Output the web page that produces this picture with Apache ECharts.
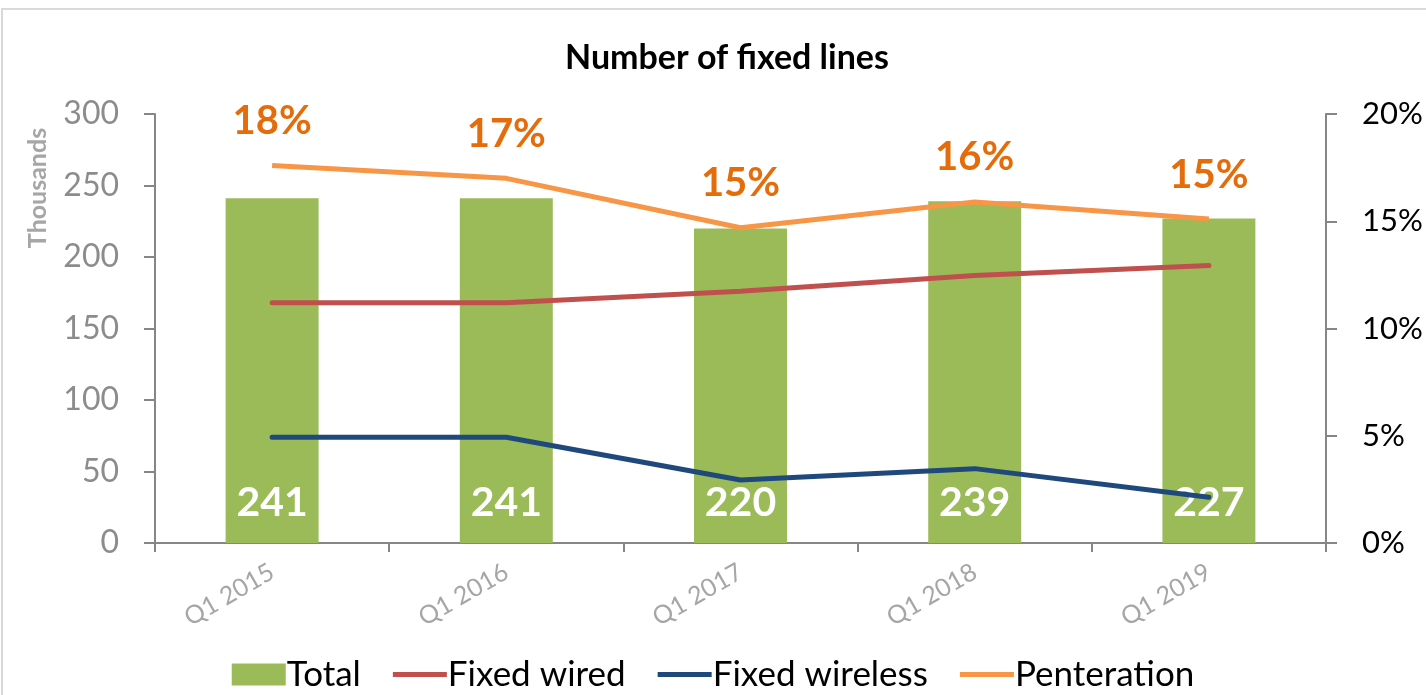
<!DOCTYPE html>
<html>
<head>
<meta charset="utf-8">
<script src="https://cdn.jsdelivr.net/npm/echarts@6/dist/echarts.min.js"></script>
<style>
  html, body { margin: 0; padding: 0; background: #fff; }
  #main { width: 1426px; height: 695px; }
</style>
</head>
<body>
<div id="main"></div>
<script>
var categories = ['Q1 2015', 'Q1 2016', 'Q1 2017', 'Q1 2018', 'Q1 2019'];
var total = [241, 241, 220, 239, 227];
var fixedWired = [168, 168, 176, 187, 194];
var fixedWireless = [74, 74, 44, 52, 32];
var penetration = [0.176, 0.170, 0.147, 0.159, 0.151];

var font = 'Lato, "Open Sans", sans-serif';
// thick horizontal stroke for the line legend keys (box kept 54x22 so it isn't stretched)
var lineKey = 'path://M0,0 M0,8.5 L54,8.5 L54,13.5 L0,13.5 Z M54,22';

var chart = echarts.init(document.getElementById('main'), null, { renderer: 'canvas' });

var option = {
  animation: false,
  textStyle: { fontFamily: font },
  title: {
    text: 'Number of fixed lines',
    left: 722,
    top: 36,
    textAlign: 'center',
    textStyle: { fontSize: 34, fontWeight: 'bold', color: '#000', fontFamily: font }
  },
  graphic: [
    {
      type: 'rect',
      shape: { x: 2, y: 9, width: 1440, height: 700 },
      style: { fill: 'none', stroke: '#d9d9d9', lineWidth: 2 },
      silent: true
    },
    {
      type: 'text',
      x: 38,
      y: 188,
      rotation: Math.PI / 2,
      style: {
        text: 'Thousands',
        fontSize: 25,
        fontWeight: 'bold',
        fill: '#a6a6a6',
        fontFamily: font,
        textAlign: 'center',
        textVerticalAlign: 'middle'
      }
    }
  ],
  legend: {
    top: 652,
    left: 'center',
    itemGap: 32,
    itemWidth: 54,
    itemHeight: 22,
    textStyle: { fontSize: 35, color: '#000', fontFamily: font, padding: [0, 0, 0, -4] },
    data: [
      { name: 'Total', icon: 'rect' },
      { name: 'Fixed wired', icon: lineKey, itemStyle: { color: '#C0504D' } },
      { name: 'Fixed wireless', icon: lineKey, itemStyle: { color: '#1F497D' } },
      { name: 'Penteration', icon: lineKey, itemStyle: { color: '#F79646' } }
    ]
  },
  grid: {
    left: 155,
    right: 100,
    top: 114,
    bottom: 152
  },
  xAxis: {
    type: 'category',
    data: categories,
    axisLine: { lineStyle: { color: '#868686', width: 2 } },
    axisTick: { show: true, length: 9, lineStyle: { color: '#868686', width: 2 } },
    axisLabel: { rotate: 30, fontSize: 25, color: '#a6a6a6', margin: 27 }
  },
  yAxis: [
    {
      type: 'value',
      min: 0,
      max: 300,
      interval: 50,
      splitLine: { show: false },
      axisLine: { show: true, lineStyle: { color: '#868686', width: 2 } },
      axisTick: { show: true, length: 11, lineStyle: { color: '#868686', width: 2 } },
      axisLabel: { fontSize: 32, color: '#8c8c8c', margin: 36 }
    },
    {
      type: 'value',
      min: 0,
      max: 0.2,
      interval: 0.05,
      position: 'right',
      splitLine: { show: false },
      axisLine: { show: true, lineStyle: { color: '#868686', width: 2 } },
      axisTick: { show: true, length: 11, lineStyle: { color: '#868686', width: 2 } },
      axisLabel: {
        fontSize: 31,
        color: '#000',
        margin: 36,
        formatter: function (v) { return Math.round(v * 100) + '%'; }
      }
    }
  ],
  series: [
    {
      name: 'Total',
      type: 'bar',
      data: total,
      barWidth: '39.7%',
      itemStyle: { color: '#9BBB59' },
      label: {
        show: true,
        position: 'insideBottom',
        distance: 20,
        color: '#fff',
        fontSize: 41,
        fontWeight: 'bold',
        fontFamily: font
      },
      z: 1
    },
    {
      name: 'Fixed wired',
      type: 'line',
      data: fixedWired,
      symbol: 'none',
      lineStyle: { color: '#C0504D', width: 5, cap: 'round' },
      itemStyle: { color: '#C0504D' },
      z: 3
    },
    {
      name: 'Fixed wireless',
      type: 'line',
      data: fixedWireless,
      symbol: 'none',
      lineStyle: { color: '#1F497D', width: 5, cap: 'round' },
      itemStyle: { color: '#1F497D' },
      z: 3
    },
    {
      name: 'Penteration',
      type: 'line',
      yAxisIndex: 1,
      data: penetration,
      symbol: 'circle',
      symbolSize: 1,
      showSymbol: true,
      lineStyle: { color: '#F79646', width: 5 },
      itemStyle: { color: 'rgba(0,0,0,0)', borderWidth: 0 },
      label: {
        show: true,
        position: 'top',
        distance: 24,
        color: '#E46C0A',
        fontSize: 40,
        fontWeight: 'bold',
        fontFamily: font,
        formatter: function (p) { return Math.round(p.value * 100) + '%'; }
      },
      z: 4
    }
  ]
};

chart.setOption(option);
</script>
</body>
</html>
